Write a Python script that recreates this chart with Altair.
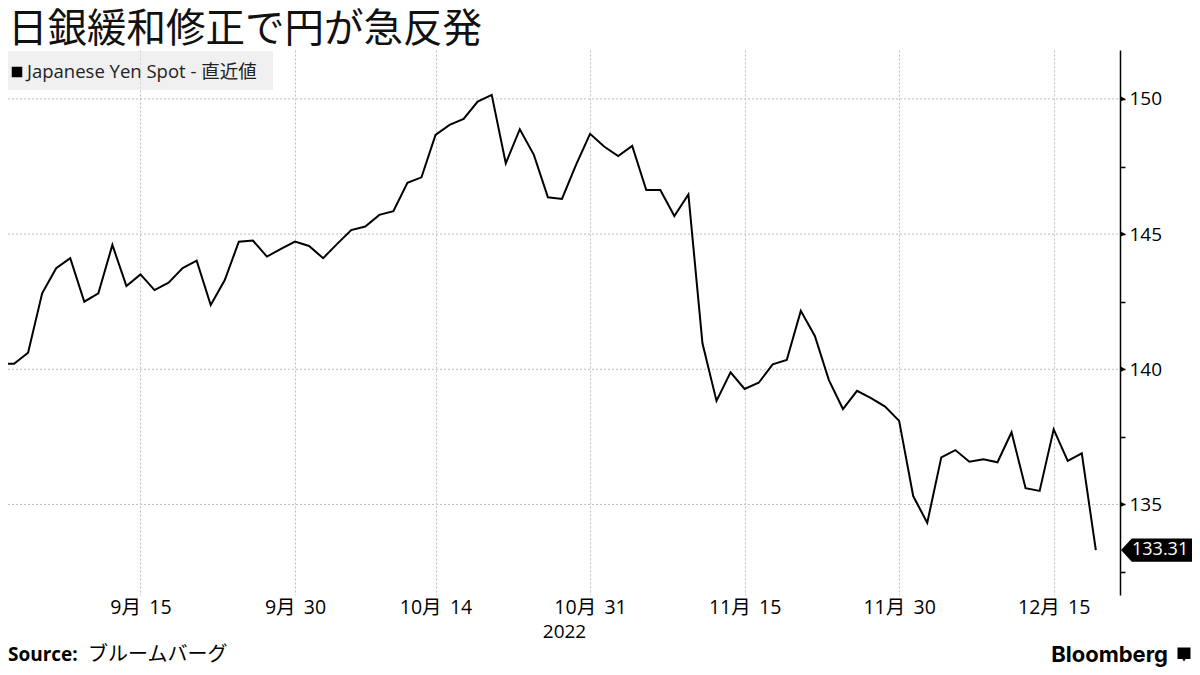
import altair as alt
import pandas as pd

# ---------------- data ----------------
dates = pd.bdate_range("2022-09-01", "2022-12-20").strftime("%Y-%m-%d").tolist()
values = [
    140.20, 140.20, 140.61, 142.81, 143.74, 144.11, 142.50, 142.81, 144.60, 143.08,
    143.51, 142.93, 143.20, 143.74, 144.02, 142.38, 143.30, 144.72, 144.76, 144.17,
    144.45, 144.72, 144.56, 144.11, 144.64, 145.15, 145.28, 145.71, 145.85, 146.90,
    147.10, 148.67, 149.04, 149.26, 149.90, 150.15, 147.62, 148.88, 147.93, 146.36,
    146.30, 147.56, 148.71, 148.24, 147.89, 148.26, 146.63, 146.63, 145.67, 146.47,
    140.96, 138.83, 139.89, 139.27, 139.50, 140.18, 140.34, 142.16, 141.23, 139.60,
    138.53, 139.20, 138.93, 138.62, 138.09, 135.31, 134.32, 136.74, 137.01, 136.58,
    136.67, 136.56, 137.67, 135.60, 135.50, 137.78, 136.61, 136.89, 133.31,
]
tick_dates = ["2022-09-15", "2022-09-30", "2022-10-14", "2022-10-31",
              "2022-11-15", "2022-11-30", "2022-12-15"]
tick_labels = ["9月\u2009 15", "9月\u2009 30", "10月\u2009 14", "10月\u2009 31",
               "11月\u2009 15", "11月\u2009 30", "12月\u2009 15"]
year_label = "2022"
grid_values = [135, 140, 145, 150]
tick_values = [132.5, 135, 137.5, 140, 142.5, 145, 147.5, 150]
title_text = "日銀緩和修正で円が急反発"
legend_text = "Japanese Yen Spot - 直近値"
source_bold = "Source:"
source_text = "ブルームバーグ"
brand_text = "Bloomberg"

# ---------------- layout ----------------
W, H = 1112, 545
FONT = "'Open Sans', 'Noto Sans CJK JP', sans-serif"
CJK = "'Noto Sans CJK JP', sans-serif"
GRID = "#bdbdbd"

df = pd.DataFrame({"date": dates, "i": list(range(len(dates))), "value": values})
tick_idx = [dates.index(d) for d in tick_dates]
label_expr = "''"
for idx, lab in zip(reversed(tick_idx), reversed(tick_labels)):
    label_expr = f"datum.value == {idx} ? '{lab}' : ({label_expr})"

xscale = alt.Scale(domain=[0.57, 79.72], nice=False, zero=False)
yscale = alt.Scale(domain=[131.65, 151.81], nice=False, zero=False)
yaxis = alt.Axis(orient="right", values=tick_values,
                 labelExpr="datum.value % 5 == 0 ? datum.label : ''",
                 format=".0f", grid=False, domain=True, domainColor="black",
                 domainWidth=1.5, ticks=True, tickColor="black", tickSize=5,
                 tickWidth=1.5, labelFontSize=19, labelFont=FONT, labelColor="black",
                 labelPadding=4, labelOverlap=False, title=None)

one = pd.DataFrame({"a": [0]})

legend_bg = alt.Chart(one).mark_rect(color="#e6e6e6", opacity=0.6).encode(
    x=alt.value(0), x2=alt.value(265), y=alt.value(1), y2=alt.value(40)
)
legend_sq = alt.Chart(one).mark_point(shape="square", filled=True, color="black",
                                      opacity=1, size=110).encode(
    x=alt.value(9), y=alt.value(22)
)
legend_txt = alt.Chart(pd.DataFrame({"t": [legend_text]})).mark_text(
    align="left", baseline="middle", fontSize=18.5, font=FONT, color="#222"
).encode(x=alt.value(19), y=alt.value(22), text="t:N")

hgrid = alt.Chart(pd.DataFrame({"value": grid_values})).mark_rule(
    strokeDash=[2, 2], color=GRID, strokeWidth=1
).encode(y=alt.Y("value:Q", scale=yscale, axis=yaxis), x=alt.value(0), x2=alt.value(W))

line = alt.Chart(df).mark_line(color="black", strokeWidth=2, clip=True).encode(
    x=alt.X("i:Q", scale=xscale,
            axis=alt.Axis(values=tick_idx, labelExpr=label_expr, grid=True,
                          gridDash=[2, 2], gridColor=GRID, gridWidth=1,
                          domain=False, ticks=False, labelFontSize=19.5, labelFont=FONT,
                          labelColor="black", labelPadding=3, labelFlush=False,
                          labelOverlap=False, title=year_label, titleFont=FONT,
                          titleFontSize=19, titleFontWeight="normal", titlePadding=6,
                          titleColor="black")),
    y=alt.Y("value:Q", scale=yscale, axis=yaxis),
)

tri = alt.Chart(pd.DataFrame({"value": grid_values})).mark_point(
    shape="triangle-right", filled=True, color="black", opacity=1, size=28
).encode(y=alt.Y("value:Q", scale=yscale, axis=yaxis), x=alt.value(W + 3))

last_df = pd.DataFrame({"value": [values[-1]], "label": [f"{values[-1]:.2f}"]})
badge = alt.Chart(last_df).mark_point(
    shape="M0,0L0.9,-0.96L6,-0.96L6,0.96L0.9,0.96Z", filled=True, color="black",
    opacity=1, size=576, strokeWidth=0
).encode(x=alt.value(W + 1), y=alt.Y("value:Q", scale=yscale, axis=yaxis))
badge_txt = alt.Chart(last_df).mark_text(
    align="left", baseline="middle", color="white", fontSize=18, font=FONT
).encode(x=alt.value(W + 12), y=alt.Y("value:Q", scale=yscale, axis=yaxis),
         text="label:N")

title = alt.Chart(pd.DataFrame({"t": [title_text]})).mark_text(
    align="left", baseline="middle", fontSize=39.5, font=CJK, color="#111"
).encode(x=alt.value(0), y=alt.value(-20), text="t:N")

src1 = alt.Chart(pd.DataFrame({"t": [source_bold]})).mark_text(
    align="left", baseline="middle", fontSize=19, font=FONT, fontWeight="bold", color="black"
).encode(x=alt.value(0), y=alt.value(605), text="t:N")
src2 = alt.Chart(pd.DataFrame({"t": [source_text]})).mark_text(
    align="left", baseline="middle", fontSize=20, font=CJK, color="black"
).encode(x=alt.value(80), y=alt.value(605), text="t:N")

brand = alt.Chart(pd.DataFrame({"t": [brand_text]})).mark_text(
    align="right", baseline="middle", fontSize=22, font="Inter, sans-serif",
    fontWeight="bold", color="black"
).encode(x=alt.value(1160), y=alt.value(605), text="t:N")
icon = alt.Chart(one).mark_point(
    shape="M-1,-1L1,-1L1,0.75L0.25,0.75L0,1.15L-0.25,0.75L-1,0.75Z",
    filled=True, color="black", opacity=1, size=170, strokeWidth=0
).encode(x=alt.value(1176), y=alt.value(604))

chart = alt.layer(
    legend_bg, hgrid, line, tri, badge, badge_txt, legend_sq, legend_txt,
    title, src1, src2, brand, icon
).properties(
    width=W, height=H,
    autosize=alt.AutoSizeParams(type="none"),
    padding={"left": 0, "top": 42, "right": 72, "bottom": 72},
    background="white",
).configure_view(stroke=None)

chart.save("out.html", embed_options={"renderer": "svg", "actions": False})
